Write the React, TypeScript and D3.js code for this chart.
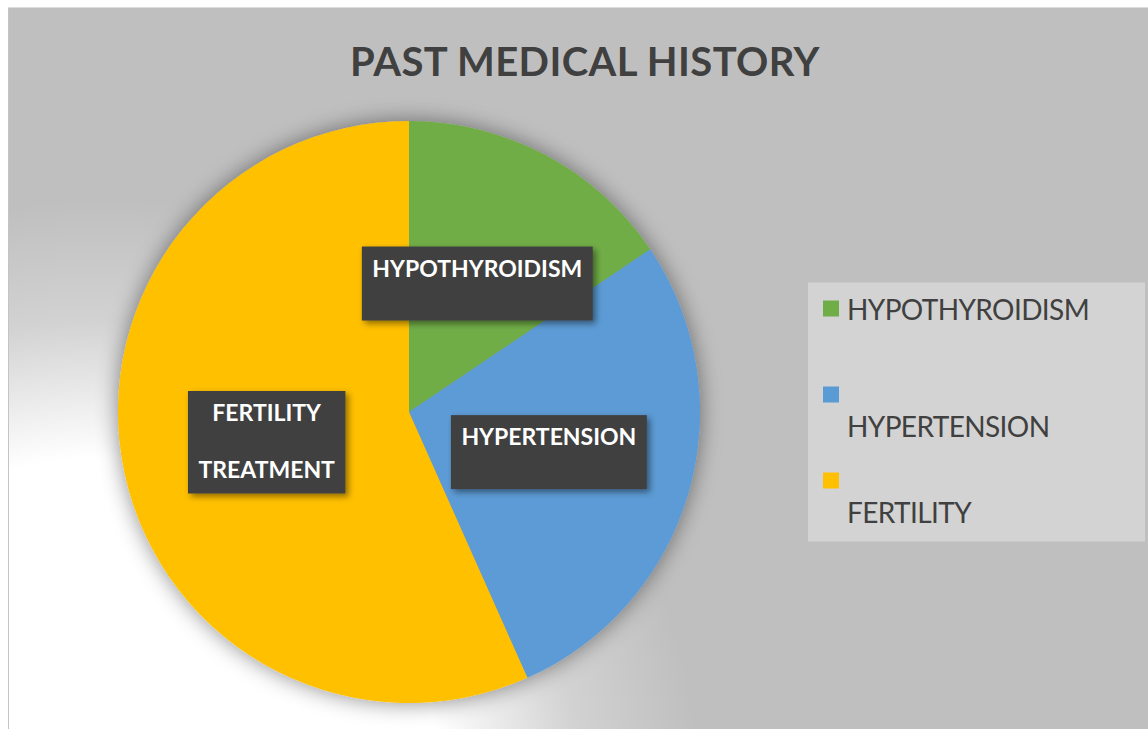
import React from 'react'
import * as d3 from 'd3'

// values (slice angles ~56°, ~100°, ~204°)
const categories = ['HYPOTHYROIDISM', 'HYPERTENSION', 'FERTILITY TREATMENT']
const values = [14, 25, 51]
const colors = ['#70ad47', '#5b9bd5', '#ffc000']
// data label text as Excel wrapped it
const labelLines = [['HYPOTHYROIDISM', ''], ['HYPERTENSION', ''], ['FERTILITY', '', 'TREATMENT']]
// legend text as Excel wrapped it
const legendLines = [['HYPOTHYROIDISM'], ['', 'HYPERTENSION'], ['', 'FERTILITY']]
const title = 'PAST MEDICAL HISTORY'

const W = 1148
const H = 729
const FONT = 'Lato, "Open Sans", sans-serif'

let ctx: CanvasRenderingContext2D | null = null
const textWidth = (text: string, font: string) => {
  if (!ctx) ctx = document.createElement('canvas').getContext('2d')
  if (!ctx) return text.length * 14
  ctx.font = font
  return ctx.measureText(text).width
}

export default function App() {
  const cx = 409
  const cy = 412
  const radius = 291

  const pie = d3
    .pie<number>()
    .sort(null)
    .value(d => d)
  const arcs = pie(values)
  const path = d3
    .arc<d3.PieArcDatum<number>>()
    .innerRadius(0)
    .outerRadius(radius)

  const labelSize = 23
  const labelLH = 28.5
  const labelFont = `bold ${labelSize}px Lato`

  const legendX = 808
  const legendW = 337
  const legendH = 259
  const legendTop = cy - legendH / 2
  const rowStep = 86
  const legendLH = 31

  return (
    <svg
      width={W}
      height={H}
      style={{ position: 'absolute', left: 0, top: 0, display: 'block' }}
      fontFamily={FONT}
    >
      <defs>
        <radialGradient id="bg" gradientUnits="userSpaceOnUse" cx={100} cy={800} r={600}>
          <stop offset="0.57" stopColor="#ffffff" />
          <stop offset="0.8" stopColor="#d2d2d2" />
          <stop offset="1" stopColor="#bfbfbf" />
        </radialGradient>
        <filter id="pieShadow" x="-20%" y="-20%" width="140%" height="140%">
          <feDropShadow dx="0" dy="0" stdDeviation="11" floodColor="#000" floodOpacity="0.45" />
        </filter>
        <filter id="boxShadow" x="-20%" y="-30%" width="150%" height="170%">
          <feDropShadow dx="3" dy="3" stdDeviation="3" floodColor="#000" floodOpacity="0.45" />
        </filter>
      </defs>

      <rect width={W} height={H} fill="#fff" />
      <rect x={8} y={7.5} width={W - 8} height={H - 7.5} fill="url(#bg)" />
      <line x1={8.5} y1={7.5} x2={8.5} y2={H} stroke="#c4c4c4" />
      <line x1={8} y1={7.5} x2={W} y2={7.5} stroke="#dcdcdc" />

      <text
        x={585}
        y={76}
        textAnchor="middle"
        fontSize={40}
        letterSpacing={0.4}
        fontWeight="bold"
        fill="#404040"
      >
        {title}
      </text>

      <g transform={`translate(${cx},${cy})`}>
        <g filter="url(#pieShadow)">
          {arcs.map((a, i) => (
            <path key={categories[i]} d={path(a) || ''} fill={colors[i]} />
          ))}
        </g>

        {arcs.map((a, i) => {
          const [lx, ly] = path.centroid(a)
          const lines = labelLines[i]
          const tw = d3.max(lines, l => textWidth(l, labelFont)) || 0
          const bw = tw + 21
          const bh = lines.length * labelLH + 17
          return (
            <g key={categories[i]} transform={`translate(${lx},${ly})`}>
              <rect
                x={-bw / 2}
                y={-bh / 2}
                width={bw}
                height={bh}
                fill="#404040"
                filter="url(#boxShadow)"
              />
              {lines.map((l, j) => (
                <text
                  key={j}
                  x={0}
                  y={-bh / 2 + 30 + j * labelLH}
                  textAnchor="middle"
                  fontSize={labelSize}
                  fontWeight="bold"
                  fill="#fff"
                >
                  {l}
                </text>
              ))}
            </g>
          )
        })}
      </g>

      <g>
        <rect x={legendX} y={legendTop} width={legendW} height={legendH} fill="#d3d3d3" />
        {legendLines.map((lines, i) => {
          const top = legendTop + 18 + i * rowStep
          return (
            <g key={categories[i]}>
              <rect x={legendX + 15} y={top} width={16} height={16} fill={colors[i]} />
              {lines.map((l, j) => (
                <text
                  key={j}
                  x={legendX + 39}
                  y={top + 19 + j * legendLH}
                  fontSize={28}
                  letterSpacing={-0.6}
                  fill="#404040"
                >
                  {l}
                </text>
              ))}
            </g>
          )
        })}
      </g>
    </svg>
  )
}
